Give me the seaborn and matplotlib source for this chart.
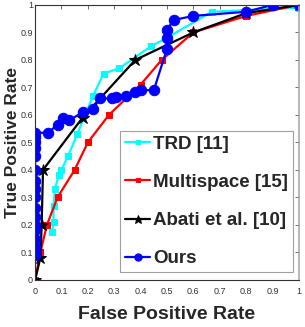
import numpy as np
import matplotlib
matplotlib.use("Agg")
import matplotlib.pyplot as plt
import seaborn as sns

# ROC points
trd_fpr = [0.065, 0.07, 0.07, 0.075, 0.09, 0.10, 0.125, 0.16, 0.22, 0.26, 0.32, 0.44, 0.50, 0.67, 1.0]
trd_tpr = [0.175, 0.21, 0.27, 0.33, 0.38, 0.40, 0.45, 0.53, 0.67, 0.75, 0.77, 0.85, 0.88, 0.975, 0.99]

multi_fpr = [0.0, 0.02, 0.045, 0.085, 0.15, 0.20, 0.28, 0.40, 0.48, 0.60, 0.80, 1.0]
multi_tpr = [0.0, 0.10, 0.20, 0.30, 0.40, 0.50, 0.60, 0.71, 0.80, 0.90, 0.96, 1.0]

abati_fpr = [0.0, 0.02, 0.025, 0.03, 0.18, 0.38, 0.60, 0.80, 1.0]
abati_tpr = [0.0, 0.08, 0.20, 0.40, 0.59, 0.80, 0.90, 0.97, 1.0]

ours_fpr = [0.0, 0.0, 0.0, 0.0, 0.0, 0.0, 0.0, 0.0, 0.0, 0.0, 0.0, 0.0, 0.0, 0.0, 0.0, 0.0, 0.0,
            0.05, 0.085, 0.105, 0.13, 0.18, 0.22, 0.245, 0.29, 0.305, 0.345, 0.38, 0.40, 0.45,
            0.50, 0.50, 0.50, 0.525, 0.60, 0.80, 0.90, 1.0]
ours_tpr = [0.09, 0.10, 0.12, 0.15, 0.18, 0.20, 0.23, 0.26, 0.30, 0.33, 0.36, 0.40, 0.45, 0.48, 0.50, 0.52, 0.535,
            0.535, 0.565, 0.59, 0.58, 0.61, 0.62, 0.66, 0.66, 0.665, 0.67, 0.685, 0.69, 0.69,
            0.84, 0.88, 0.91, 0.945, 0.96, 0.975, 1.0, 1.0]

ticks = np.round(np.arange(0, 1.01, 0.1), 1)
tick_labels = ["0", "0.1", "0.2", "0.3", "0.4", "0.5", "0.6", "0.7", "0.8", "0.9", "1"]

sns.set_theme(style="white")
plt.rcParams["font.family"] = ["Liberation Sans", "DejaVu Sans"]

fig = plt.figure(figsize=(3.05, 3.27), dpi=100)
ax = fig.add_axes([0.115, 0.144, 0.865, 0.841])

series = [
    ("TRD [11]", trd_fpr, trd_tpr, "#00ffff", "s", 5),
    ("Multispace [15]", multi_fpr, multi_tpr, "#ff0000", "s", 5),
    ("Abati et al. [10]", abati_fpr, abati_tpr, "black", "*", 9),
    ("Ours", ours_fpr, ours_tpr, "#0000ff", "o", 7.5),
]
for name, xs, ys, col, mk, ms in series:
    sns.lineplot(x=xs, y=ys, sort=False, estimator=None, ax=ax, color=col, marker=mk,
                 markersize=ms, markeredgecolor=col, linewidth=1.6, label=name)

ax.set_xlim(0, 1)
ax.set_ylim(0, 1)
ax.set_xticks(ticks)
ax.set_xticklabels(tick_labels)
ax.set_yticks(ticks)
ax.set_yticklabels(tick_labels)
ax.tick_params(axis="both", direction="in", length=3, width=0.6, labelsize=6.5,
               labelcolor="#333333", color="#555555", top=True, right=True, pad=1.5)
ax.tick_params(axis="x", pad=5)
for side in ["left", "bottom", "top"]:
    ax.spines[side].set_color("#333333")
    ax.spines[side].set_linewidth(0.8)
ax.spines["right"].set_color("#aaaaaa")
ax.spines["right"].set_linewidth(1.2)

ax.set_xlabel("False Positive Rate", fontsize=14, fontweight="bold", labelpad=7)
ax.set_ylabel("True Positive Rate", fontsize=12.5, fontweight="bold")
ax.yaxis.set_label_coords(-0.057, 0.5)

leg = ax.legend(loc="lower right", bbox_to_anchor=(0.977, 0.029),
                prop={"size": 13.5, "weight": "bold"}, markerscale=0.7,
                frameon=True, fancybox=False, edgecolor="#888888", handlelength=1.35,
                handletextpad=0.15, labelspacing=1.12, borderpad=0.25, borderaxespad=0)
leg.get_frame().set_linewidth(0.8)

fig.savefig("out.png", dpi=100)
